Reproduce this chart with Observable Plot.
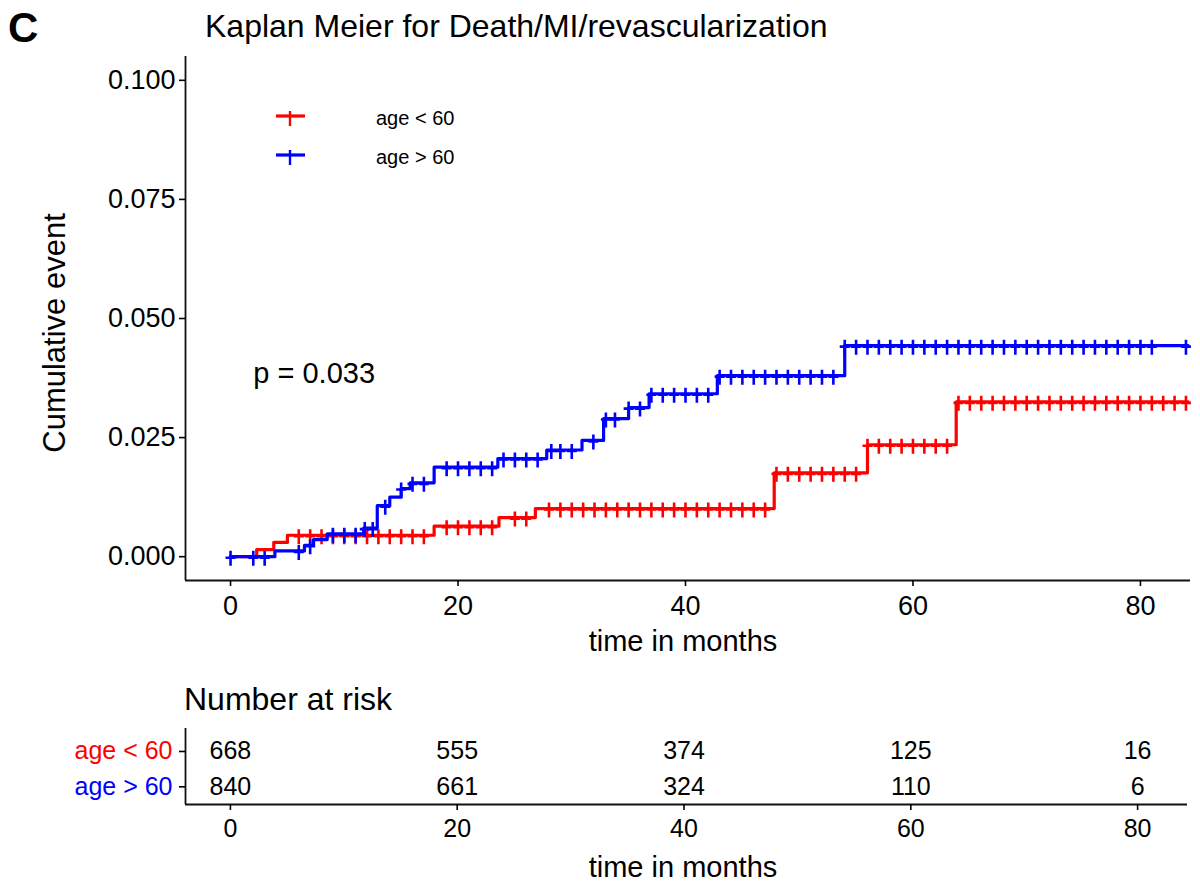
<!DOCTYPE html>
<html>
<head>
<meta charset="utf-8">
<script src="https://cdn.jsdelivr.net/npm/d3@7"></script>
<script src="https://cdn.jsdelivr.net/npm/@observablehq/plot@0.6"></script>
<style>
  html, body { margin: 0; padding: 0; background: #fff; }
  #root { position: relative; width: 1200px; height: 888px; background: #fff; overflow: hidden;
          font-family: "Liberation Sans", Arial, sans-serif; }
  #root > svg, #root > div { position: absolute; left: 0; }
</style>
</head>
<body>
<div id="root"></div>
<script>
// ---------------- data ----------------
const groups = ["age < 60", "age > 60"];
const groupColors = ["#FF0000", "#0000FF"];

// Kaplan-Meier cumulative event step curves (time in months, cumulative event)
const redTimes = [0, 2.3, 3.8, 5.0, 17.9, 23.6, 26.8, 47.8, 56.0, 63.8, 84.2];
const redCum   = [0, 0.0015, 0.003, 0.0045, 0.0064, 0.0082, 0.0101, 0.0176, 0.0235, 0.0325, 0.0325];

const blueTimes = [0, 3.9, 6.5, 7.3, 8.5, 11.7, 12.9, 14.0, 15.0, 15.8, 17.9, 23.5, 27.8, 30.9, 32.8, 35.0, 36.8, 42.8, 54.0, 84.2];
const blueCum   = [0, 0.0012, 0.0024, 0.0036, 0.0048, 0.006, 0.0107, 0.0125, 0.0143, 0.0155, 0.0188, 0.0206, 0.0224, 0.0244, 0.029, 0.0313, 0.0342, 0.038, 0.0443, 0.0443];

// censoring marks (months)
const redCensor = [6, 7, 8, 9, 10, 11, 12, 13, 14, 15, 16, 17, 19, 20, 21, 22, 23, 25, 26,
  28, 29, 30, 31, 32, 33, 34, 35, 36, 37, 38, 39, 40, 41, 42, 43, 44, 45, 46, 47,
  48, 49, 50, 51, 52, 53, 54, 55, 56, 57, 58, 59, 60, 61, 62, 63,
  64, 65, 66, 67, 68, 69, 70, 71, 72, 73, 74, 75, 76, 77, 78, 79, 80, 81, 82, 83, 84];
const blueCensor = [0, 2, 3, 6, 7, 9, 10, 11, 11.8, 12.5, 13.6, 15, 16, 17, 19, 20, 21, 22, 23,
  24, 25, 26, 27, 28.2, 29, 30, 31.9, 33, 33.8, 35, 36, 37, 38, 39, 40, 41, 42,
  43, 44, 45, 46, 47, 48, 49, 50, 51, 52, 53, 54, 55, 56, 57, 58, 59, 60, 61, 62, 63,
  64, 65, 66, 67, 68, 69, 70, 71, 72, 73, 74, 75, 76, 77, 78, 79, 80, 81, 84];

const xTicks = [0, 20, 40, 60, 80];
const yTicks = [0, 0.025, 0.05, 0.075, 0.1];
const pValueText = "p = 0.033";
const pValueCoord = [2, 0.0385];

// number at risk table
const riskTimes = [0, 20, 40, 60, 80];
const riskRed  = [668, 555, 374, 125, 16];
const riskBlue = [840, 661, 324, 110, 6];

const titleText = "Kaplan Meier for Death/MI/revascularization";
const panelLetter = "C";
const yLabel = "Cumulative event";
const xLabel = "time in months";
const riskTitle = "Number at risk";

// ---------------- derived tables ----------------
const curves = [
  {group: groups[0], times: redTimes, cum: redCum, censor: redCensor},
  {group: groups[1], times: blueTimes, cum: blueCum, censor: blueCensor}
];
const stepAt = (c, t) => { let v = c.cum[0]; for (let i = 0; i < c.times.length; i++) if (c.times[i] <= t) v = c.cum[i]; return v; };
const lineData = curves.map(c => c.times.map((t, i) => ({group: c.group, time: t, cum: c.cum[i]})));
const censorData = curves.map(c => c.censor.map(t => ({group: c.group, time: t, cum: stepAt(c, t)})));
const riskData = [];
riskTimes.forEach((t, i) => {
  riskData.push({group: groups[0], row: 1, time: t, n: riskRed[i]});
  riskData.push({group: groups[1], row: 2, time: t, n: riskBlue[i]});
});

const xDomain = [-3.96, 84.4];
const yDomain = [-0.005, 0.105];
const riskYDomain = [0.35, 2.5];
const FONT = "'Liberation Sans', Arial, sans-serif";

const plusSymbol = {
  draw(ctx) {
    ctx.moveTo(-5, 1); ctx.lineTo(5, 1);
    ctx.moveTo(0, -6); ctx.lineTo(0, 9);
  }
};

const colorScale = {domain: groups, range: groupColors};

// ---------------- main KM plot ----------------
const mainMarks = [
  Plot.ruleX([xDomain[0]], {stroke: "#111", strokeWidth: 1.8}),
  Plot.ruleY([yDomain[0]], {stroke: "#111", strokeWidth: 1.8}),
  Plot.axisX({ticks: xTicks, tickSize: 6, tickPadding: 9, label: null, fontSize: 27, strokeWidth: 1.6}),
  Plot.axisY({ticks: yTicks, tickFormat: d3.format(".3f"), tickSize: 6, tickPadding: 4, label: null, fontSize: 27, strokeWidth: 1.6})
];
curves.forEach((c, k) => {
  mainMarks.push(Plot.line(lineData[k], {x: "time", y: "cum", stroke: "group", curve: "step-after", strokeWidth: 3.2}));
  mainMarks.push(Plot.dot(censorData[k], {x: "time", y: "cum", stroke: "group", symbol: plusSymbol, fill: "none", strokeWidth: 2.6}));
});
mainMarks.push(Plot.text([pValueText], {x: pValueCoord[0], y: pValueCoord[1], text: d => d, textAnchor: "start", fontSize: 29, fill: "#000"}));

const main = Plot.plot({
  width: 1200, height: 660,
  marginLeft: 185, marginRight: 10, marginTop: 56, marginBottom: 80,
  x: {domain: xDomain},
  y: {domain: yDomain},
  color: colorScale,
  style: {fontFamily: FONT, color: "#000", background: "transparent", overflow: "visible"},
  marks: mainMarks
});
main.style.top = "0px";
document.getElementById("root").appendChild(main);

// ---------------- risk table ----------------
const risk = Plot.plot({
  width: 1200, height: 228,
  marginLeft: 185, marginRight: 13, marginTop: 68, marginBottom: 84,
  x: {domain: xDomain},
  y: {domain: riskYDomain, reverse: true},
  color: colorScale,
  style: {fontFamily: FONT, color: "#000", background: "transparent", overflow: "visible"},
  marks: [
    Plot.ruleX([xDomain[0]], {stroke: "#111", strokeWidth: 1.8}),
    Plot.ruleY([riskYDomain[1]], {stroke: "#111", strokeWidth: 1.8}),
    Plot.axisX({ticks: riskTimes, tickSize: 6, tickPadding: 9, label: null, fontSize: 25, strokeWidth: 1.6}),
    Plot.axisY({ticks: [1, 2], tickFormat: () => "", tickSize: 6, label: null, strokeWidth: 1.6}),
    Plot.text(groups, {y: (d, i) => i + 1, text: d => d, fill: d => d, frameAnchor: "left", dx: -13, textAnchor: "end", fontSize: 25}),
    Plot.text(riskData, {x: "time", y: "row", text: d => String(d.n), fill: "#000", fontSize: 25})
  ]
});
risk.style.top = "660px";
document.getElementById("root").appendChild(risk);

// ---------------- titles, labels, legend ----------------
const ov = d3.select("#root").append("svg")
  .attr("width", 1200).attr("height", 888)
  .style("top", "0px").style("pointer-events", "none")
  .style("font-family", FONT);

ov.append("text").attr("x", 8).attr("y", 42).attr("font-size", 42).attr("font-weight", "bold").text(panelLetter);
ov.append("text").attr("x", 205).attr("y", 37).attr("font-size", 32).text(titleText);
ov.append("text").attr("transform", "translate(65,333) rotate(-90)").attr("text-anchor", "middle")
  .attr("font-size", 31).text(yLabel);
ov.append("text").attr("x", 683).attr("y", 651).attr("text-anchor", "middle").attr("font-size", 29).text(xLabel);
ov.append("text").attr("x", 184).attr("y", 710).attr("font-size", 32).text(riskTitle);
ov.append("text").attr("x", 683).attr("y", 877).attr("text-anchor", "middle").attr("font-size", 29).text(xLabel);

// legend
groups.forEach((g, i) => {
  const cy = 116 + i * 39;
  const lg = ov.append("g").attr("stroke", groupColors[i]).attr("stroke-width", 3.2);
  lg.append("line").attr("x1", 276).attr("x2", 305).attr("y1", cy).attr("y2", cy);
  lg.append("line").attr("x1", 290).attr("x2", 290).attr("y1", cy - 5).attr("y2", cy + 10).attr("stroke-width", 2.4);
  ov.append("text").attr("x", 376).attr("y", cy + 9).attr("font-size", 20).attr("fill", "#000").text(g);
});
</script>
</body>
</html>
